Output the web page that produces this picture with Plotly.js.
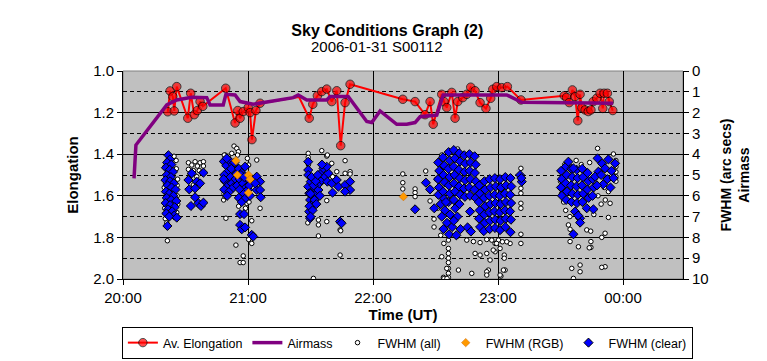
<!DOCTYPE html>
<html>
<head>
<meta charset="utf-8">
<script src="https://cdn.plot.ly/plotly-3.0.1.min.js"></script>
<style>html,body{margin:0;padding:0;background:#fff;}#chart{width:767px;height:361px;}</style>
</head>
<body>
<div id="chart"></div>
<script>
// Times are minutes after 2006-01-31 20:00 UT
const elongT = [21.5,22.6,23.9,24.6,25.8,31.1,32.5,34.2,35.7,37.0,38.3,49.3,53.8,55.1,56.2,57.7,60.1,61.0,61.9,63.8,65.8,84.5,89.4,91.1,93.3,95.4,97.8,100.2,102.6,104.5,106.6,109.0,134.3,140.2,145.0,147.4,148.9,153.0,154.1,155.4,157.8,159.4,160.7,163.1,165.0,166.9,169.0,171.4,174.2,176.5,177.5,179.4,181.8,184.5,191.0,211.8,212.9,214.2,215.7,217.0,218.3,219.4,220.2,221.8,223.3,224.6,225.7,227.4,229.0,230.3,230.9,232.5,233.4,235.1];
const elongV = [1.196,1.096,1.123,1.192,1.075,1.227,1.107,1.21,1.19,1.147,1.17,1.083,1.25,1.19,1.227,1.195,1.176,1.2,1.33,1.19,1.155,1.125,1.227,1.16,1.119,1.099,1.087,1.147,1.095,1.359,1.152,1.064,1.136,1.147,1.21,1.147,1.256,1.112,1.147,1.176,1.103,1.227,1.147,1.128,1.112,1.078,1.095,1.152,1.18,1.131,1.088,1.075,1.08,1.075,1.139,1.119,1.127,1.152,1.091,1.123,1.239,1.112,1.176,1.187,1.195,1.187,1.147,1.131,1.107,1.18,1.107,1.107,1.147,1.19];
const elongUnmarked = [84.5];

const airT = [5.3,6.2,21.0,25.8,33.0,40.2,41.8,48.1,49.4,53.8,56.2,62.5,81.7,84.1,88.2,97.8,99.4,108.1,117.0,119.4,123.4,131.4,136.2,140.2,142.6,150.6,153.7,184.2,191.4,235.3];
const airV = [5.16,3.56,1.63,1.39,1.26,1.28,1.63,1.63,1.12,1.15,1.47,1.6,1.28,1.15,1.39,1.39,1.23,1.23,2.43,2.48,1.92,2.56,2.56,2.48,2.2,2.12,1.15,1.15,1.5,1.55];

// FWHM (all) [minutes, arcsec]
const fwhmAll = [
 [21.3,4.92],[20.2,4.6],[25.5,4.3],[26.2,5.2],[19.8,5.6],[26.0,6.0],[20.0,6.6],[26.3,6.4],[20.3,7.1],[25.8,6.8],[21.3,8.16],[21.0,7.3],[24.5,4.1],[26.0,5.5],[20.4,5.4],[25.6,4.7],
 [31.4,4.41],[34.6,4.36],[37.0,4.41],[38.6,4.36],[33.0,4.52],[35.7,4.57],[38.6,4.57],[31.4,4.73],[33.8,4.79],[36.6,4.79],[37.8,4.89],[32.2,5.0],[35.4,5.08],[33.8,5.48],[36.2,5.56],
 [53.3,3.61],[54.6,3.72],[55.4,3.88],[49.0,4.04],[52.2,3.96],[55.0,4.04],[59.7,4.2],[60.3,4.52],[64.2,4.28],[59.4,6.36],[61.8,7.2],[61.8,8.29],[54.2,8.37],[57.7,8.89],[56.2,9.21],[57.7,9.21],[49.4,7.08],[65.8,6.6],[60.3,8.1],[48.6,4.04],[48.3,6.2],[48.5,5.9],[55.5,6.5],[58.8,6.6],[60.5,6.3],[50.5,4.1],[49.0,6.04],
 [95.4,3.83],[97.8,4.09],[100.2,4.44],[106.6,4.31],[109.0,4.84],[102.6,4.84],[106.6,4.92],[97.8,6.23],[93.8,7.4],[97.8,7.24],[93.8,7.93],[104.2,8.85],[91.4,9.97],[88.9,3.96],[88.9,4.15],[104.2,7.64],[93.8,7.16],[96.2,4.52],[100.6,5.08],[88.7,7.3],[89.0,4.5],[98.1,4.04],[109.0,4.95],[104.5,7.68],
 [134.3,4.95],[134.3,5.37],[134.3,5.67],[140.2,5.67],[140.2,5.85],[140.2,6.04],[145.3,4.81],[147.4,6.25],[149.3,7.12],[149.3,7.5],
 [191.0,4.68],[191.0,5.64],[191.0,5.88],[191.0,6.36],[191.0,6.6],[191.0,8.29],[160.6,3.75],[153.0,4.04],[156.2,8.13],[160.2,7.96],[165.0,8.13],[168.2,8.2],[171.4,8.25],[174.6,8.1],[177.0,8.13],[178.6,8.29],[180.2,8.13],[182.1,8.21],[185.8,8.29],[156.2,8.53],[156.2,8.77],[153.0,8.93],[156.2,9.0],[156.2,9.21],[156.2,9.49],[156.2,9.73],[156.2,9.92],[153.8,9.92],[161.0,9.57],[169.0,8.77],[171.4,8.85],[174.6,8.77],[176.2,9.09],[175.4,9.57],[178.6,8.69],[181.0,8.53],[183.0,8.85],[183.0,9.0],[183.4,9.57],[181.4,9.86],[191.0,7.85],[154.1,9.97],[155.5,9.97],[155.4,9.49],[167.4,9.73],[174.6,9.65],[174.6,9.81],[181.0,9.81],[182.6,9.57],[177.7,8.61],[179.3,8.29],[184.2,8.21],[154.0,8.29],[152.5,7.9],[151.0,6.6],[150.5,5.2],
 [227.8,3.72],[235.4,3.99],[236.6,5.08],[236.6,4.3],[236.6,4.6],[236.6,4.85],[236.6,5.3],[233.0,5.8],[233.8,6.36],[231.5,6.2],[229.5,6.4],[233.0,7.04],[231.4,7.8],[229.8,8.0],[222.6,7.64],[224.5,7.7],[224.6,8.2],[224.6,8.48],[223.8,8.5],[218.6,8.45],[214.6,8.2],[231.4,9.41],[219.4,9.33],[215.4,9.49],[216.2,9.97],[219.4,9.65],[213.8,7.4],[214.5,7.0],[212.5,6.7],[211.5,6.3],[210.5,5.9],[210.0,5.3],[210.5,4.8],[212.0,4.5],[217.5,4.3],[220.0,4.5],[224.0,4.4],[226.0,6.9],[228.0,6.0],[231.0,5.6],[214.6,7.61],[229.8,9.44]
];

// FWHM (RGB)
const fwhmRGB = [[54.2,4.31],[54.9,5.0],[60.2,5.0],[60.2,5.85],[61.0,5.21],[134.6,6.04]];

// FWHM (clear)
const clearA = [[21.8,4.05],[22.5,4.25],[21.2,4.4],[23.2,4.5],[20.6,4.65],[22.4,4.75],[24.0,4.85],[21.0,5.0],[23.0,5.1],[20.4,5.25],[22.6,5.3],[24.4,5.4],[21.4,5.5],[23.3,5.6],[25.2,5.7],[20.6,5.8],[22.2,5.9],[24.2,6.0],[21.0,6.1],[23.1,6.2],[25.6,6.25],[20.5,6.35],[22.6,6.45],[24.8,6.55],[21.6,6.65],[23.6,6.75],[20.8,6.85],[24.6,6.95],[22.2,7.0],[25.8,7.05],[21.3,7.45]];
const clearB = [[33.0,4.92],[38.6,4.89],[31.4,5.24],[35.4,5.32],[37.0,5.4],[31.8,5.69],[34.6,5.64],[34.6,6.07],[32.6,6.49],[36.2,6.36],[37.4,6.49],[38.6,6.33]];
const clearC = [[48.4,4.35],[49.6,4.55],[51.0,4.3],[52.6,4.5],[50.2,4.85],[48.6,5.0],[51.6,5.1],[53.2,4.8],[49.0,5.3],[50.6,5.5],[52.2,5.4],[54.0,5.2],[48.6,5.7],[51.0,5.8],[53.0,5.6],[50.0,6.0],[54.4,4.95],[49.8,4.2],[52.0,4.7],[54.8,5.5],[48.3,5.2],[53.5,4.4]];
const clearD = [[55.6,4.7],[57.0,4.9],[58.6,4.6],[60.0,5.2],[56.0,5.2],[57.6,5.4],[59.0,5.6],[56.0,5.7],[58.0,5.9],[60.0,5.7],[55.6,6.1],[57.0,6.3],[59.0,6.1],[56.6,5.0],[58.2,5.1],[60.6,5.5],[61.0,6.0],[56.2,6.88],[58.1,6.88],[56.2,7.4],[57.0,7.61],[58.6,7.52],[61.8,7.88],[62.5,7.96],[64.2,5.08],[65.8,5.32],[64.2,5.72],[65.8,5.72],[66.1,6.07],[63.5,5.4]];
const clearF = [[88.9,4.36],[88.9,4.76],[88.9,5.0],[88.9,5.56],[89.4,5.88],[89.8,6.2],[89.4,6.76],[89.8,7.08],[90.6,6.44],[91.4,6.04],[91.3,5.72],[92.2,5.64],[93.0,5.88],[93.8,5.72],[94.2,5.4],[95.4,5.24],[94.9,4.92],[96.2,4.68],[97.0,5.08],[98.1,5.32],[98.6,4.92],[97.8,4.6],[100.2,5.4],[100.6,5.85],[102.6,5.24],[103.4,5.56],[106.6,5.48],[109.0,5.32],[109.0,5.72],[106.6,5.8],[104.2,7.24],[104.9,7.32],[90.1,5.32],[90.0,5.9],[92.0,6.2],[89.5,6.5],[95.5,4.5],[90.5,5.1],[91.5,5.5],[92.5,5.3],[93.5,5.0],[91.0,6.7],[90.0,7.0],[92.8,6.4],[94.5,6.0]];
const clearMid = [[140.2,6.65],[145.4,5.37],[147.4,5.69],[149.4,6.6]];
const clearG = [[151.3,4.4],[151.8,4.8],[151.2,5.2],[151.7,5.6],[151.4,5.95],[153.6,4.15],[154.2,4.55],[153.8,5.0],[154.3,5.35],[153.7,5.8],[154.1,6.15],[156.3,3.9],[156.8,4.3],[156.2,4.7],[156.7,5.1],[156.4,5.5],[156.9,5.9],[156.3,6.3],[158.8,3.8],[159.3,4.2],[158.7,4.6],[159.2,5.0],[158.9,5.4],[159.4,5.8],[158.8,6.2],[161.4,3.95],[161.8,4.35],[161.2,4.75],[161.7,5.15],[161.3,5.55],[161.9,5.95],[163.8,4.05],[164.3,4.45],[163.9,4.85],[164.2,5.25],[163.7,5.65],[164.1,6.05],[166.3,4.0],[166.8,4.4],[166.4,4.8],[166.7,5.2],[166.2,5.6],[166.6,6.0],[168.8,4.1],[169.3,4.5],[168.9,4.9],[169.4,5.3],[168.7,5.7],[169.2,6.1],
 [152.5,6.4],[154.5,6.7],[153.0,7.0],[155.5,7.3],[153.8,7.6],[156.5,7.85],[158.0,7.5],[157.0,6.9],[159.5,6.6],[160.5,7.0],[158.8,7.2],[161.5,6.4],[155.0,6.3],[162.0,7.6],[160.0,7.9],
 [166.6,6.76],[165.4,7.52],[167.0,7.72]];
const clearG2 = [[171.0,5.5],[171.3,5.9],[170.8,6.3],[171.2,6.7],[170.9,7.1],[171.4,7.5],[173.5,5.3],[173.8,5.7],[173.3,6.1],[173.9,6.5],[173.4,6.9],[173.7,7.3],[173.2,7.7],[176.0,5.2],[176.4,5.6],[175.8,6.0],[176.3,6.4],[175.9,6.8],[176.2,7.2],[176.0,7.6],[178.5,5.15],[178.9,5.55],[178.4,5.95],[178.8,6.35],[178.3,6.75],[178.7,7.15],[178.6,7.55],[181.0,5.2],[181.4,5.6],[180.9,6.0],[181.3,6.4],[180.8,6.8],[181.2,7.2],[181.0,7.65],[183.5,5.1],[183.9,5.5],[183.3,5.9],[183.8,6.3],[183.4,6.7],[183.7,7.1],[183.5,7.5],[186.0,5.15],[186.4,5.55],[185.9,5.95],[186.3,6.35],[185.8,6.75],[186.2,7.15],[186.0,7.75],[190.6,5.0],[191.4,5.32],[191.2,5.15]];
const clearH = [[210.3,4.8],[210.6,5.2],[210.2,5.6],[210.7,6.0],[212.6,4.6],[213.0,5.0],[212.5,5.4],[213.1,5.8],[212.7,6.2],[215.2,4.7],[215.6,5.1],[215.1,5.5],[215.7,5.9],[215.3,6.3],[217.8,4.75],[218.2,5.15],[217.7,5.55],[218.3,5.95],[217.9,6.35],[220.4,4.7],[220.8,5.1],[220.3,5.5],[220.9,5.9],[220.5,6.3],[223.0,4.9],[223.4,5.3],[222.9,5.7],[223.5,6.1],[225.5,5.2],[225.9,5.6],[225.4,6.0],
 [227.8,4.2],[233.0,4.25],[236.2,4.44],[230.0,4.45],[231.4,4.68],[228.2,4.84],[234.5,4.8],[226.6,5.08],[229.5,5.0],[232.5,5.2],[235.5,5.15],[230.5,5.45],[227.5,5.5],[234.0,5.6],
 [217.0,6.76],[219.4,7.08],[219.4,7.29],[218.5,6.95],[222.6,6.6],[225.8,6.65],[216.2,7.85],[213.8,4.36],[216.2,4.68]];

const fwhmClear = [].concat(clearA, clearB, clearC, clearD, clearF, clearMid, clearG, clearG2, clearH);

const xTickLabels = ['20:00','21:00','22:00','23:00','00:00'];

function toDate(m) {
  const d = new Date(Date.UTC(2006, 0, 31, 20, 0, 0) + Math.round(m * 60000));
  return d.toISOString().replace('T', ' ').replace('Z', '');
}
const FONT = 'Liberation Sans, Arial, sans-serif';
const tickVals = xTickLabels.map((_, i) => toDate(i * 60));

const traces = [
  {
    name: 'FWHM (all)', x: fwhmAll.map(p => toDate(p[0])), y: fwhmAll.map(p => p[1]),
    yaxis: 'y2', mode: 'markers', type: 'scatter', legendrank: 3,
    marker: {symbol: 'circle', size: 4.5, color: '#ffffff', line: {color: '#000000', width: 1}}
  },
  {
    name: 'FWHM (clear)', x: fwhmClear.map(p => toDate(p[0])), y: fwhmClear.map(p => p[1]),
    yaxis: 'y2', mode: 'markers', type: 'scatter', legendrank: 5,
    marker: {symbol: 'diamond', size: 7, color: '#0000ff', line: {color: '#000000', width: 1}}
  },
  {
    name: 'FWHM (RGB)', x: fwhmRGB.map(p => toDate(p[0])), y: fwhmRGB.map(p => p[1]),
    yaxis: 'y2', mode: 'markers', type: 'scatter', legendrank: 4,
    marker: {symbol: 'diamond', size: 6.5, color: '#ff9900', line: {color: '#c86400', width: 0.5}}
  },
  {
    name: 'Airmass', x: airT.map(toDate), y: airV, yaxis: 'y2', mode: 'lines', type: 'scatter', legendrank: 2,
    line: {color: '#800080', width: 3.5}
  },
  {
    name: 'Av. Elongation', x: elongT.map(toDate), y: elongV, yaxis: 'y', mode: 'lines+markers', type: 'scatter', legendrank: 1,
    line: {color: '#ff0000', width: 2},
    marker: {symbol: 'circle', size: elongT.map(t => elongUnmarked.includes(t) ? 0 : 8.5), color: '#ff0000', line: {color: '#000000', width: 1}}
  }
];

const layout = {
  width: 767, height: 361,
  margin: {l: 123, r: 84, t: 71, b: 82, pad: 0, autoexpand: false},
  paper_bgcolor: '#ffffff', plot_bgcolor: '#c0c0c0',
  font: {family: FONT, size: 15, color: '#000000'},
  showlegend: true,
  title: {
    text: 'Sky Conditions Graph (2)', font: {family: FONT, size: 16, color: '#000000', weight: 'bold'},
    xref: 'container', x: 0.505, xanchor: 'center', yref: 'container', y: 1 - 30 / 361, yanchor: 'middle'
  },
  annotations: [{
    text: '2006-01-31 S00112', xref: 'paper', yref: 'paper', x: 0.4536, y: (279 - 47) / 208,
    xanchor: 'center', yanchor: 'middle', showarrow: false, font: {family: FONT, size: 15, color: '#000000'}
  }],
  xaxis: {
    type: 'date', range: [toDate(0), toDate(268.8)],
    tickvals: tickVals, ticktext: xTickLabels,
    ticks: 'outside', ticklen: 5, tickcolor: '#000000', tickwidth: 1,
    showline: true, linecolor: '#000000', linewidth: 1,
    showgrid: true, gridcolor: '#000000', gridwidth: 1, zeroline: false,
    tickfont: {family: FONT, size: 15, color: '#000000'},
    title: {text: 'Time (UT)', font: {family: FONT, size: 15, color: '#000000', weight: 'bold'}, standoff: 3}
  },
  yaxis: {
    range: [2.0, 1.0], tick0: 1.0, dtick: 0.2, tickformat: '.1f',
    ticks: 'outside', ticklen: 5, tickcolor: '#000000', tickwidth: 1,
    showline: true, linecolor: '#000000', linewidth: 1,
    showgrid: true, gridcolor: '#000000', gridwidth: 1, zeroline: false,
    minor: {tick0: 1.0, dtick: 0.1, showgrid: true, gridcolor: '#000000', gridwidth: 1, griddash: '4px,3px', ticks: ''},
    tickfont: {family: FONT, size: 15, color: '#000000'},
    title: {text: 'Elongation', font: {family: FONT, size: 15, color: '#000000', weight: 'bold'}, standoff: 10}
  },
  yaxis2: {
    overlaying: 'y', side: 'right', range: [10, 0], tick0: 0, dtick: 1,
    ticks: 'outside', ticklen: 5, tickcolor: '#000000', tickwidth: 1,
    showline: true, linecolor: '#000000', linewidth: 1,
    showgrid: false, zeroline: false,
    tickfont: {family: FONT, size: 15, color: '#000000'},
    title: {text: 'FWHM (arc secs)<br>Airmass', font: {family: FONT, size: 14, color: '#000000', weight: 'bold'}, standoff: 13}
  },
  shapes: [{
    type: 'rect', xref: 'paper', yref: 'paper', x0: 0, x1: 1, y0: 0, y1: 1,
    line: {color: '#808080', width: 1}, layer: 'below'
  }],
  legend: {
    orientation: 'h', xref: 'paper', yref: 'paper',
    x: -0.002, xanchor: 'left', y: (279 - 327) / 208, yanchor: 'top',
    bgcolor: '#ffffff', bordercolor: '#000000', borderwidth: 1,
    font: {family: FONT, size: 12.5, color: '#000000'}, traceorder: 'normal', itemwidth: 30
  }
};

Plotly.newPlot('chart', traces, layout, {displayModeBar: false, staticPlot: true});
</script>
</body>
</html>
